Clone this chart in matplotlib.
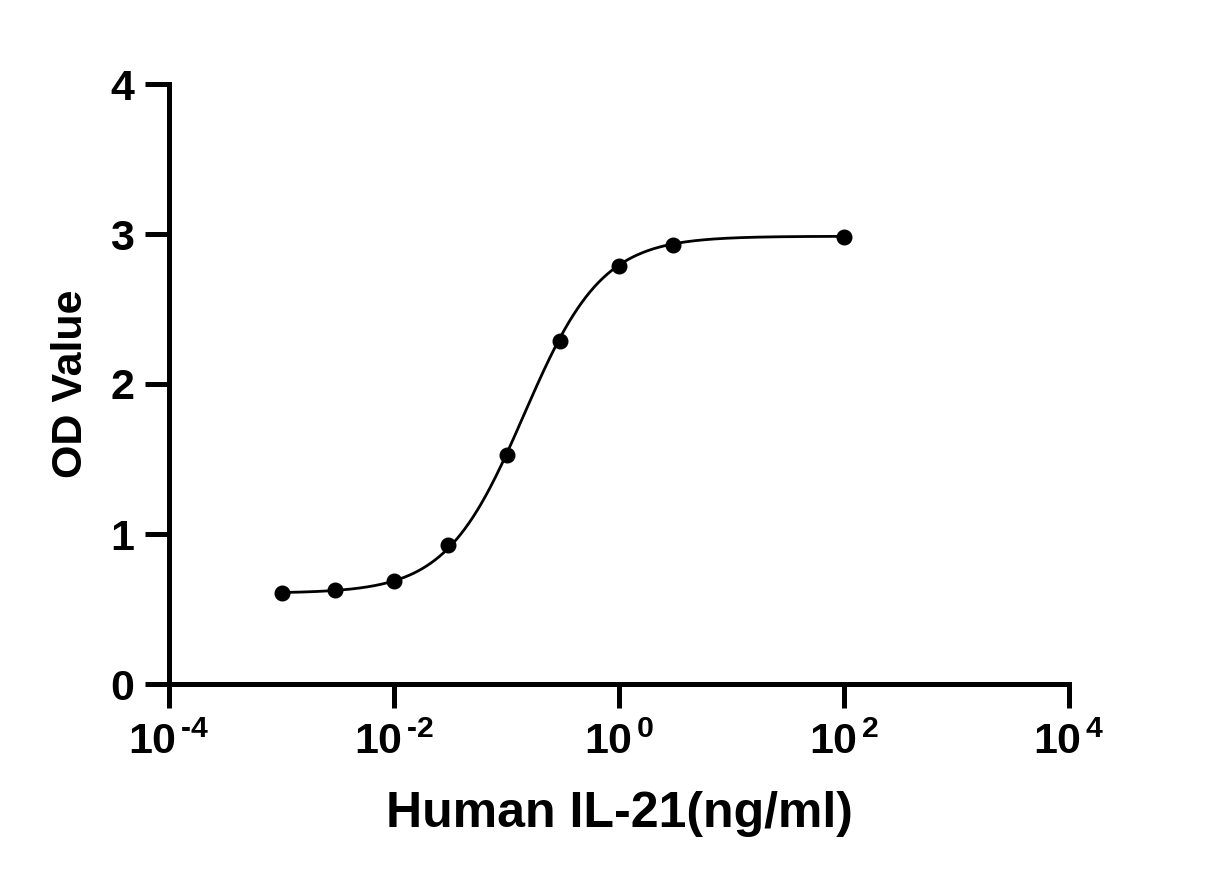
import numpy as np
import matplotlib
matplotlib.use("Agg")
import matplotlib.pyplot as plt
from matplotlib.ticker import FixedLocator, NullLocator

plt.rcParams['font.family'] = ['Liberation Sans', 'DejaVu Sans']
plt.rcParams['font.weight'] = 'bold'
plt.rcParams['mathtext.fontset'] = 'custom'
plt.rcParams['mathtext.rm'] = 'Liberation Sans:bold'
plt.rcParams['mathtext.it'] = 'Liberation Sans:bold'
plt.rcParams['mathtext.bf'] = 'Liberation Sans:bold'
plt.rcParams['mathtext.default'] = 'rm'

# Data
conc = [0.001, 0.003, 0.01, 0.03, 0.1, 0.3, 1.0, 3.0, 100.0]
od = [0.61, 0.63, 0.69, 0.93, 1.53, 2.29, 2.79, 2.93, 2.98]

# 4PL fit parameters (estimated)
bottom, top, ec50, hill = 0.605, 2.985, 0.143, 1.25

x_ticks = [1e-4, 1e-2, 1e0, 1e2, 1e4]
x_labels = [r"10$^{\,\text{-4}}$", r"10$^{\,\text{-2}}$", r"10$^{\,\text{0}}$",
            r"10$^{\,\text{2}}$", r"10$^{\,\text{4}}$"]
y_ticks = [0, 1, 2, 3, 4]

fig = plt.figure(figsize=(12.11, 8.86), dpi=100)
ax = fig.add_axes([169/1211, 1-684/886, 900/1211, 600/886])

xs = np.logspace(np.log10(conc[0]), np.log10(conc[-1]), 400)
ys = bottom + (top - bottom) / (1 + (ec50 / xs) ** hill)
ax.plot(xs, ys, color='black', lw=2.0, zorder=2)
ax.plot(conc, od, 'o', color='black', ms=10.5, zorder=3)

ax.set_xscale('log')
ax.set_xlim(1e-4, 1e4)
ax.set_ylim(0, 4)
ax.xaxis.set_major_locator(FixedLocator(x_ticks))
ax.xaxis.set_minor_locator(NullLocator())
ax.set_xticklabels(x_labels)
ax.set_yticks(y_ticks)
ax.set_yticklabels([str(v) for v in y_ticks])

for s in ['top', 'right']:
    ax.spines[s].set_visible(False)
for s in ['left', 'bottom']:
    ax.spines[s].set_linewidth(3.6)
ax.tick_params(axis='both', width=3.6, length=17, labelsize=31, pad=8)
ax.tick_params(axis='x', pad=11)

ax.set_xlabel('Human IL-21(ng/ml)', fontsize=36, fontweight='bold', labelpad=20)
ax.set_ylabel('OD Value', fontsize=31, fontweight='bold', labelpad=14)

fig.savefig('out.png', dpi=100)
